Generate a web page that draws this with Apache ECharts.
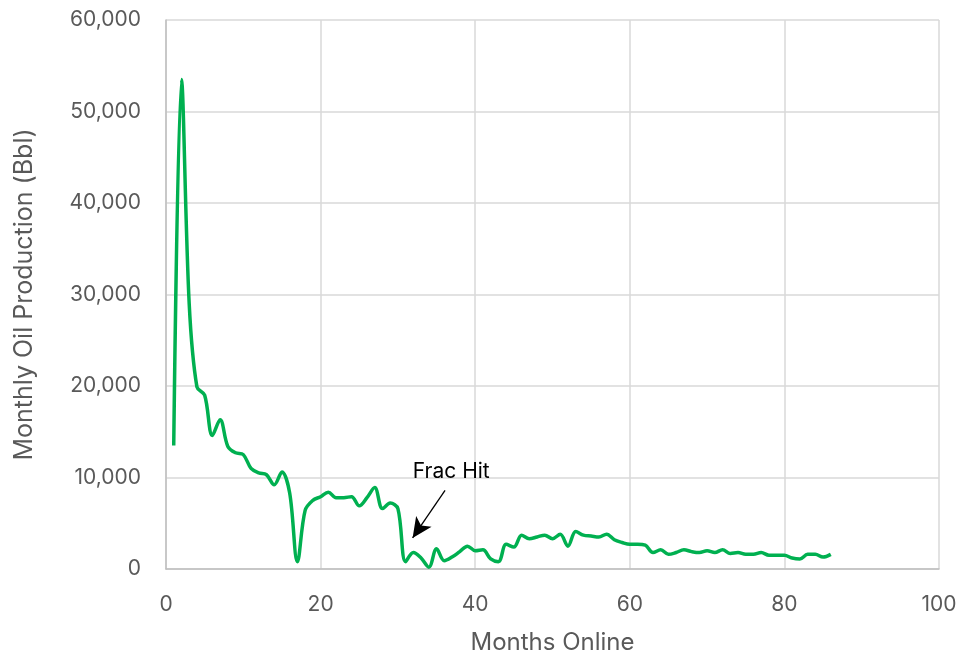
<!DOCTYPE html>
<html><head><meta charset="utf-8">
<script src="https://cdn.jsdelivr.net/npm/echarts@6/dist/echarts.min.js"></script>
<style>html,body{margin:0;padding:0;background:#fff}#c{width:956px;height:653px}</style>
</head><body><div id="c"></div>
<script>
const months = [];
for (let i = 1; i <= 86; i++) months.push(i);
const oilProduction = [
 13500, 53500, 29000, 19900, 19000, 14600, 16300, 13400, 12700, 12500,
 11000, 10500, 10300, 9200, 10600, 8300, 800, 6400, 7500, 7900,
 8400, 7800, 7800, 7900, 6900, 7800, 8900, 6600, 7200, 6600,
 800, 1800, 1200, 200, 2200, 900, 1300, 1900, 2500, 2000,
 2100, 1100, 800, 2700, 2400, 3700, 3300, 3500, 3700, 3300,
 3800, 2500, 4100, 3700, 3600, 3500, 3800, 3200, 2900, 2700,
 2700, 2600, 1800, 2100, 1600, 1800, 2100, 1900, 1800, 2000,
 1800, 2100, 1700, 1800, 1600, 1600, 1800, 1500, 1500, 1500,
 1200, 1100, 1600, 1600, 1300, 1600
];
const xTicks = [0, 20, 40, 60, 80, 100];
const yTicks = [0, 10000, 20000, 30000, 40000, 50000, 60000];
const annotationText = 'Frac Hit';
const arrowFrom = [36.1, 8600];
const arrowTo = [31.9, 3400];
const labelAt = [36.9, 10600];

const FONT = 'Inter';
const chart = echarts.init(document.getElementById('c'));
chart.setOption({
  animation: false,
  grid: {left: 166, right: 17, top: 20, bottom: 84, containLabel: false, outerBoundsMode: 'none'},
  xAxis: {
    type: 'value', min: xTicks[0], max: xTicks[xTicks.length-1], interval: 20,
    name: 'Months Online', nameLocation: 'middle', nameGap: 62,
    nameTextStyle: {fontFamily: FONT, fontSize: 24, color: '#595959'},
    axisLine: {show: true, lineStyle: {color: '#bfbfbf', width: 1.5}},
    axisTick: {show: false},
    axisLabel: {fontFamily: FONT, fontSize: 21, color: '#595959', margin: 25},
    splitLine: {show: true, lineStyle: {color: '#d9d9d9', width: 1.5}}
  },
  yAxis: {
    type: 'value', min: yTicks[0], max: yTicks[yTicks.length-1], interval: 10000,
    name: 'Monthly Oil Production (Bbl)', nameLocation: 'middle', nameGap: 129,
    nameTextStyle: {fontFamily: FONT, fontSize: 25, color: '#595959'},
    axisLine: {show: true, lineStyle: {color: '#bfbfbf', width: 1.5}},
    axisTick: {show: false},
    axisLabel: {fontFamily: FONT, fontSize: 21, color: '#595959', margin: 25,
      formatter: v => v.toLocaleString('en-US')},
    splitLine: {show: true, lineStyle: {color: '#d9d9d9', width: 1.5}}
  },
  series: [{
    type: 'line',
    data: months.map((m, i) => [m, oilProduction[i]]),
    smooth: 0.35,
    showSymbol: false,
    lineStyle: {color: '#00b050', width: 3.5},
    markLine: {
      silent: true, symbol: ['none', 'arrow'], symbolSize: [14, 20],
      lineStyle: {color: '#000', width: 1.3, type: 'solid'},
      label: {show: false},
      data: [[{coord: arrowFrom}, {coord: arrowTo}]]
    },
    markPoint: {
      silent: true, symbol: 'circle', symbolSize: 0,
      label: {show: true, formatter: annotationText, fontFamily: FONT, fontSize: 21, color: '#000'},
      data: [{coord: labelAt}]
    }
  }]
});
</script></body></html>
